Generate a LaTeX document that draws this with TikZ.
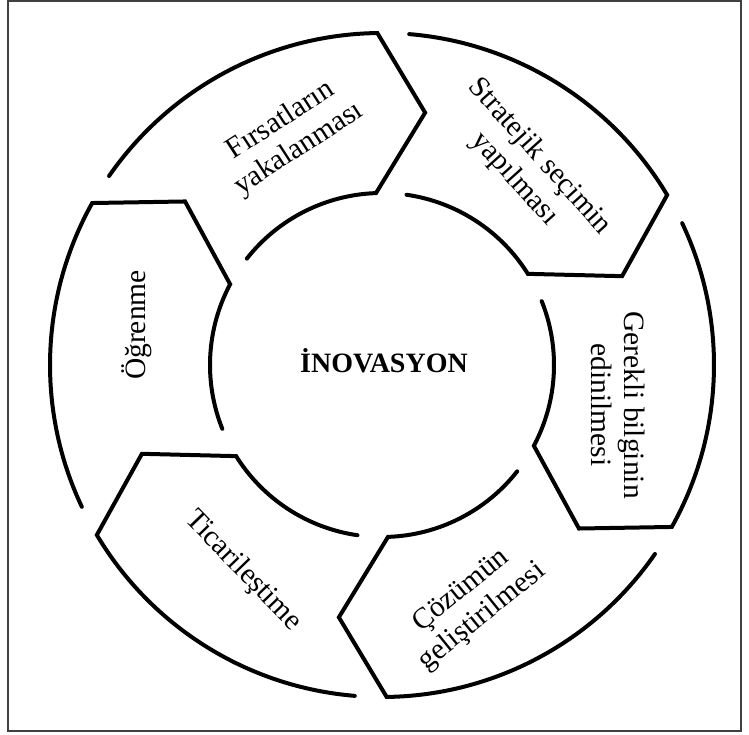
\documentclass[tikz,border=0pt]{standalone}
\usepackage{fontspec}
\setmainfont{Liberation Serif}
\begin{document}
\begin{tikzpicture}[x=1pt,y=1pt,
  ring/.style={line width=4pt, line cap=round, line join=miter},
  lbl/.style={font=\fontsize{29.5}{33.5}\selectfont, align=center, inner sep=0pt},
  title/.style={font=\fontsize{28}{32}\selectfont\bfseries, inner sep=0pt}]
\useasboundingbox (0,0) rectangle (749,735);
% frame
\draw[line width=1.3pt, black!75] (8,4) rectangle (741,734);
% six chevron segments of the cycle, each pointing clockwise
\begin{scope}[shift={(382,370)}]
\foreach \k in {0,...,5}{
  \pgfmathsetmacro\b{90.8+60*\k}
  \pgfmathsetmacro\ot{\b+54.5}
  \pgfmathsetmacro\tp{\b-10.5}
  \pgfmathsetmacro\ih{\b+1.2}
  \pgfmathsetmacro\it{\b+51}
  \draw[ring] (\ot:332pt) arc[start angle=\ot, end angle=\b, radius=332pt]
    -- (\tp:256pt) -- (\ih:172pt)
    arc[start angle=\ih, end angle=\it, radius=172pt];
}
\end{scope}
% labels
\node[lbl, rotate=33]  (fir) at (290,600) {Fırsatların\\yakalanması};
\node[lbl, rotate=-48] (str) at (527,567) {Stratejik seçimin\\yapılması};
\node[lbl, rotate=-90] (ger) at (618,330) {Gerekli bilginin\\edinilmesi};
\node[lbl, rotate=39]  (coz) at (472,131) {Çözümün\\geliştirilmesi};
\node[lbl, rotate=-46] (tic) at (243,164) {Ticarileştime};
\node[lbl, rotate=90]  (ogr) at (137,410) {Öğrenme};
\node[title, anchor=base] (ino) at (384,362) {İNOVASYON};
\end{tikzpicture}
\end{document}
